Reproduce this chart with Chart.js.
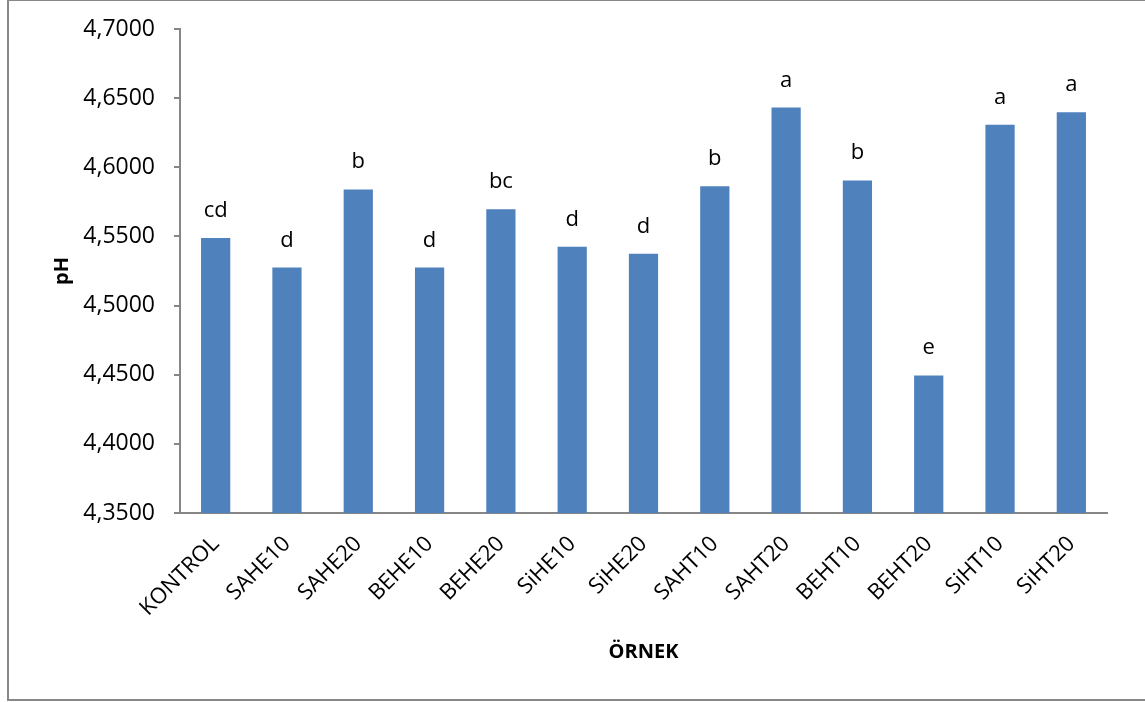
<!DOCTYPE html>
<html>
<head>
<meta charset="utf-8">
<script src="https://cdn.jsdelivr.net/npm/chart.js@4"></script>
<style>
  html, body { margin: 0; padding: 0; background: #fff; }
  #wrap { width: 1145px; height: 702px; position: relative; }
</style>
</head>
<body>
<div id="wrap"><canvas id="myChart"></canvas></div>
<script>
const categories = ["KONTROL", "SAHE10", "SAHE20", "BEHE10", "BEHE20", "SiHE10", "SiHE20",
  "SAHT10", "SAHT20", "BEHT10", "BEHT20", "SiHT10", "SiHT20"];
const phValues = [4.5488, 4.5275, 4.5840, 4.5275, 4.5697, 4.5425, 4.5375,
  4.5862, 4.6432, 4.5905, 4.4495, 4.6307, 4.6398];
const letters = ["cd", "d", "b", "d", "bc", "d", "d", "b", "a", "b", "e", "a", "a"];
const yMin = 4.35;
const yMax = 4.70;
const yStep = 0.05;

const FONT = "'Open Sans', 'Noto Sans', sans-serif";
const AXIS = "#868686";

const frame = {
  id: "frame",
  beforeDraw(chart) {
    const c = chart.ctx;
    c.save();
    c.fillStyle = "#fff";
    c.fillRect(0, 0, chart.width, chart.height);
    c.strokeStyle = "#888";
    c.lineWidth = 2;
    c.strokeRect(8, 0, 1200, 700);
    c.restore();
  },
};

const letterLabels = {
  id: "letterLabels",
  afterDatasetsDraw(chart) {
    const c = chart.ctx;
    const meta = chart.getDatasetMeta(0);
    c.save();
    c.font = "22px " + FONT;
    c.fillStyle = "#000";
    c.textAlign = "center";
    c.textBaseline = "alphabetic";
    meta.data.forEach((bar, i) => {
      c.fillText(letters[i], bar.x, bar.y - 21);
    });
    c.restore();
  },
};

const ctx = document.getElementById("myChart");

new Chart(ctx, {
  type: "bar",
  data: {
    labels: categories,
    datasets: [
      {
        label: "pH",
        data: phValues,
        backgroundColor: "#4F81BD",
        borderWidth: 0,
        barPercentage: 0.41,
        categoryPercentage: 1,
      },
    ],
  },
  options: {
    responsive: true,
    maintainAspectRatio: false,
    animation: false,
    layout: { padding: { top: 29, right: 38, bottom: 0, left: 0 } },
    plugins: {
      legend: { display: false },
      tooltip: { enabled: false },
    },
    scales: {
      x: {
        grid: { display: false },
        border: { display: true, color: AXIS, width: 2 },
        ticks: {
          autoSkip: false,
          maxRotation: 45,
          minRotation: 45,
          padding: 10,
          color: "#000",
          font: { family: FONT, size: 22 },
        },
        title: {
          display: true,
          text: "ÖRNEK",
          color: "#000",
          font: { family: FONT, size: 20, weight: "bold" },
          padding: { top: 0, bottom: 38 },
        },
        afterFit(scale) {
          scale.height = 189;
          scale.paddingLeft = 0;
          scale.paddingRight = 0;
        },
      },
      y: {
        min: yMin,
        max: yMax,
        grid: { drawOnChartArea: false, drawTicks: true, tickLength: 6, color: AXIS, lineWidth: 2 },
        border: { display: true, color: AXIS, width: 2 },
        ticks: {
          stepSize: yStep,
          padding: 19,
          color: "#000",
          font: { family: FONT, size: 23 },
          callback: (v) => v.toFixed(4).replace(".", ","),
        },
        title: {
          display: true,
          text: "pH",
          color: "#000",
          font: { family: FONT, size: 20, weight: "bold" },
          padding: { top: 50, bottom: 0 },
        },
        afterFit(scale) {
          scale.width = 180;
          scale.paddingTop = 0;
          scale.paddingBottom = 0;
        },
      },
    },
  },
  plugins: [frame, letterLabels],
});
</script>
</body>
</html>
